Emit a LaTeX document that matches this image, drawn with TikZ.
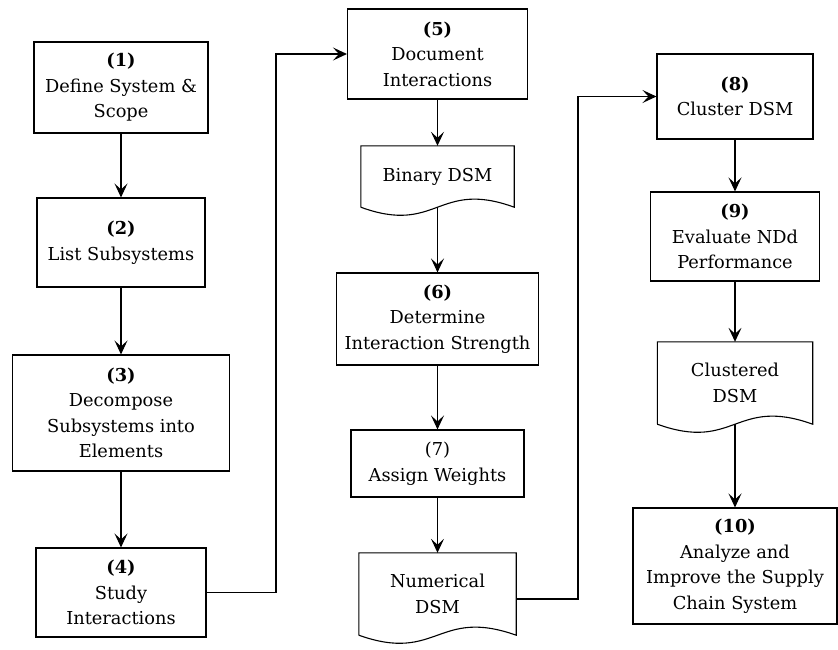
\documentclass[tikz,border=0pt]{standalone}
\usepackage{fontspec}
\setmainfont{DejaVu Serif}
\usetikzlibrary{arrows.meta,calc}
\tikzset{
    task box/.style={rectangle, draw, line width=1.1pt, align=center, inner sep=0pt, font=\fontsize{17.8}{25.5}\selectfont},
    doc box/.style={rectangle, align=center, inner sep=0pt, font=\fontsize{17.8}{25.5}\selectfont},
    doc line/.style={line width=1.1pt},
    flow/.style={-{Stealth[length=14pt, width=13pt, inset=6pt]}, line width=1.1pt},
    num/.style={font=\bfseries}
}

\begin{document}
\begin{tikzpicture}[x=1pt, y=-1pt]
    \useasboundingbox (0,0) rectangle (838,649);

    % Column 1 - system definition
    \node[task box, minimum width=174pt, minimum height=91pt] (s1) at (121,87.5) {\textbf{(1)}\\Define System \&\\Scope};
    \node[task box, minimum width=168pt, minimum height=89pt] (s2) at (121,242.5) {\textbf{(2)}\\List Subsystems};
    \node[task box, minimum width=217pt, minimum height=116pt] (s3) at (121,413) {\textbf{(3)}\\Decompose\\Subsystems into\\Elements};
    \node[task box, minimum width=170pt, minimum height=89pt] (s4) at (121,592.5) {\textbf{(4)}\\Study\\Interactions};

    % Column 2 - building the DSM
    \node[task box, minimum width=180pt, minimum height=90pt] (s5) at (437.5,54) {\textbf{(5)}\\Document\\Interactions};
    \node[doc box, minimum width=153pt, minimum height=61pt] (bin) at (437.5,176.5) {Binary DSM};
    \node[task box, minimum width=202pt, minimum height=92pt] (s6) at (437.5,319) {\textbf{(6)}\\Determine\\Interaction Strength};
    \node[task box, minimum width=173pt, minimum height=67pt] (s7) at (437.5,463.5) {(7)\\Assign Weights};
    \node[doc box, minimum width=157pt, minimum height=82pt] (num) at (437.5,594) {Numerical\\DSM};

    % Column 3 - clustering and analysis
    \node[task box, minimum width=156pt, minimum height=85pt] (s8) at (735,96.5) {\textbf{(8)}\\Cluster DSM};
    \node[task box, minimum width=169pt, minimum height=89pt] (s9) at (735,236.5) {\textbf{(9)}\\Evaluate NDd\\Performance};
    \node[doc box, minimum width=155pt, minimum height=82pt] (clu) at (735,383) {Clustered\\DSM};
    \node[task box, minimum width=204pt, minimum height=116pt] (s10) at (735,566) {\textbf{(10)}\\Analyze and\\Improve the Supply\\Chain System};

    % Document outlines with wavy bottom
    \foreach \d in {bin,num,clu} {
        \draw[doc line] (\d.south west) -- (\d.north west) -- (\d.north east) -- (\d.south east)
            .. controls ($(\d.south)+(0,-28)$) and ($(\d.south)+(0,28)$) .. (\d.south west);
    }

    % Vertical flow
    \draw[flow] (s1) -- (s2);
    \draw[flow] (s2) -- (s3);
    \draw[flow] (s3) -- (s4);
    \draw[flow] (s5) -- (bin);
    \draw[flow] (bin.south) -- (s6);
    \draw[flow] (s6) -- (s7);
    \draw[flow] (s7) -- (num);
    \draw[flow] (s8) -- (s9);
    \draw[flow] (s9) -- (clu);
    \draw[flow] (clu.south) -- (s10);

    % Links between columns
    \coordinate (bend1) at (276,592.5);
    \coordinate (bend2) at (578,599);
    \draw[flow] (s4.east) -- (bend1) |- (s5.west);
    \draw[flow] (bend2 -| num.east) -- (bend2) |- (s8.west);
\end{tikzpicture}
\end{document}
